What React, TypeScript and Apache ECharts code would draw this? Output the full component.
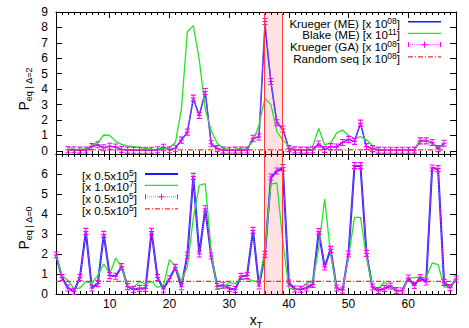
import React, { useEffect, useRef } from 'react';
import * as echarts from 'echarts';

const FONT = '"Liberation Sans", Arial, Helvetica, sans-serif';

// ---------- data ----------
const topX = [3, 4, 5, 6, 7, 8, 9, 10, 11, 12, 13, 14, 15, 16, 17, 18, 19, 20, 21, 22, 23, 24, 25, 26, 27, 28, 29, 30, 31, 32, 33, 34, 35, 36, 37, 38, 39, 40, 41, 42, 43, 44, 45, 46, 47, 48, 49, 50, 51, 52, 53, 54, 55, 56, 57, 58, 59, 60, 61, 62, 63, 64, 65, 66];
const kruegerMETop = [0.08, 0.08, 0.05, 0.06, 0.28, 0.4, 0.2, 0.3, 0.25, 0.1,
  0.05, 0.04, 0.04, 0.04, 0.04, 0.08, 0.24, 0.08, 0.17, 0.7,
  1.22, 3.38, 2.3, 3.8, 0.46, 0.15, 0.05, 0.04, 0.05, 0.06,
  0.06, 0.82, 0.9, 8.15, 4.45, 1.82, 1.42, 0.15, 0.07, 0.05,
  0.05, 0.08, 0.45, 0.1, 0.28, 0.25, 0.55, 0.75, 0.62, 1.78,
  0.28, 0.15, 0.05, 0.04, 0.04, 0.04, 0.04, 0.04, 0.05, 0.65,
  0.65, 0.55, 0.15, 0.5];
const blakeMETop = [0.28, 0.1, 0.1, 0.15, 0.35, 0.55, 1.03, 1.0, 0.62, 0.42,
  0.32, 0.27, 0.22, 0.17, 0.12, 0.1, 0.15, 0.22, 0.55, 2.7,
  7.7, 8.12, 5.9, 2.7, 1.3, 0.5, 0.18, 0.08, 0.08, 0.2,
  0.2, 0.6, 1.7, 3.4, 3.0, 1.25, 0.7, 0.32, 0.1, 0.05,
  0.1, 0.3, 1.45, 0.4, 0.5, 1.15, 1.35, 1.0, 0.82, 0.92,
  0.72, 0.35, 0.06, 0.04, 0.04, 0.04, 0.04, 0.04, 0.1, 0.7,
  0.7, 0.45, 0.28, 0.28];
const kruegerGATop = [0.08, 0.08, 0.05, 0.06, 0.28, 0.4, 0.2, 0.3, 0.25, 0.1,
  0.05, 0.04, 0.04, 0.04, 0.04, 0.08, 0.24, 0.08, 0.17, 0.7,
  1.22, 3.42, 2.3, 3.85, 0.46, 0.15, 0.05, 0.04, 0.05, 0.06,
  0.06, 0.82, 0.9, 8.38, 4.5, 1.82, 1.42, 0.15, 0.07, 0.05,
  0.05, 0.08, 0.45, 0.1, 0.28, 0.25, 0.55, 0.75, 0.62, 1.8,
  0.28, 0.15, 0.05, 0.04, 0.04, 0.04, 0.04, 0.04, 0.05, 0.65,
  0.65, 0.55, 0.15, 0.5];
const randomTopX = [3, 66];
const randomTopY = [0.07, 0.07];

const bottomX = [1, 2, 3, 4, 5, 6, 7, 8, 9, 10, 11, 12, 13, 14, 15, 16, 17, 18, 19, 20, 21, 22, 23, 24, 25, 26, 27, 28, 29, 30, 31, 32, 33, 34, 35, 36, 37, 38, 39, 40, 41, 42, 43, 44, 45, 46, 47, 48, 49, 50, 51, 52, 53, 54, 55, 56, 57, 58, 59, 60, 61, 62, 63, 64, 65, 66, 67, 68];
const kruegerMEBottom = [1.95, 0.82, 0.3, 0.13, 0.82, 3.13, 0.3, 0.52, 2.98, 0.92,
  0.89, 1.37, 0.37, 0.23, 0.28, 0.28, 3.13, 0.82, 0.25, 0.76,
  1.33, 0.36, 1.94, 5.85, 2.0, 4.26, 1.9, 0.39, 0.44, 0.28,
  0.23, 0.88, 0.92, 3.18, 0.4, 1.98, 5.82, 6.15, 6.3, 0.55,
  0.25, 0.23, 0.3, 0.48, 3.12, 1.35, 2.23, 0.3, 0.2, 2.0,
  6.4, 6.4, 2.03, 0.35, 0.17, 0.28, 0.4, 0.17, 0.15, 0.8,
  0.43, 0.82, 0.6, 6.3, 6.25, 0.58, 0.32, 0.75];
const blakeMEBottom = [1.95, 0.93, 0.68, 0.27, 0.3, 0.62, 0.55, 0.93, 1.5, 1.0,
  1.8, 1.35, 0.38, 0.33, 0.62, 0.5, 0.62, 0.33, 0.42, 1.72,
  1.38, 0.65, 1.35, 3.8, 5.43, 5.52, 2.1, 0.25, 0.3, 0.58,
  0.52, 0.75, 0.75, 0.67, 0.6, 2.2, 5.5, 5.55, 2.6, 0.3,
  0.22, 0.3, 0.55, 0.62, 2.3, 4.75, 2.0, 0.3, 0.25, 1.85,
  3.83, 3.83, 1.85, 0.42, 0.25, 0.6, 0.35, 0.17, 0.13, 0.8,
  0.82, 0.85, 0.82, 1.55, 1.47, 0.35, 0.35, 0.75];
const kruegerGABottom = [1.95, 0.82, 0.3, 0.13, 0.82, 3.13, 0.3, 0.52, 2.98, 0.92,
  0.89, 1.37, 0.37, 0.23, 0.28, 0.28, 3.13, 0.82, 0.25, 0.76,
  1.33, 0.36, 1.94, 5.88, 2.0, 4.26, 1.9, 0.39, 0.44, 0.28,
  0.23, 0.88, 0.92, 3.18, 0.4, 1.98, 5.85, 6.15, 6.32, 0.55,
  0.25, 0.23, 0.3, 0.48, 3.12, 1.35, 2.23, 0.3, 0.2, 2.0,
  6.42, 6.42, 2.03, 0.35, 0.17, 0.28, 0.4, 0.17, 0.15, 0.8,
  0.43, 0.82, 0.6, 6.3, 6.27, 0.58, 0.32, 0.75];
const randomBottomX = [1, 68];
const randomBottomY = [0.63, 0.63];

const shadeRange = [35.9, 38.9];

const xTickLabels = [10, 20, 30, 40, 50, 60];
const topYTicks = [0, 1, 2, 3, 4, 5, 6, 7, 8, 9];
const bottomYLabels = [0, 1, 2, 3, 4, 5, 6];

const topLegend = [
  ['Krueger (ME) [x 10', '08'],
  ['Blake (ME) [x 10', '11'],
  ['Krueger (GA) [x 10', '08'],
  ['Random seq [x 10', '08'],
];
const bottomLegend = [
  ['[x 0.5x10', '5'],
  ['[x 1.0x10', '7'],
  ['[x 0.5x10', '5'],
  ['[x 0.5x10', '5'],
];
const topTitle = ['P', 'eq | Δ=2'];
const bottomTitle = ['P', 'eq | Δ=0'];
const xTitle = ['x', 'T'];

// ---------- styles ----------
const BLUE = '#1a1aff';
const GREEN = '#22e622';
const MAGENTA = '#ff00ff';
const MAGENTA_LIGHT = '#ff55ff';
const RED = '#ff2a2a';
const DASHDOT = [5, 2, 1, 2];
const ERR_SYMBOL = 'path://M0 0H6M3 0V8M0 8H6M0 4H6';

const pts = (xs: number[], ys: number[]) => xs.map((x, i) => [x, ys[i]]);
const black = { color: '#000', width: 1 };

const minorX = (gridIndex: number, position: string, labels: boolean) => ({
  type: 'value', gridIndex, position, min: 1, max: 68, interval: 1,
  axisLine: { show: true, onZero: false, lineStyle: black },
  axisTick: { show: true, inside: true, length: 3, lineStyle: black },
  axisLabel: labels
    ? { show: true, customValues: xTickLabels, margin: 4, fontSize: 12, color: '#000', fontFamily: FONT }
    : { show: false },
  splitLine: { show: false },
});
const majorX = (gridIndex: number, position: string) => ({
  type: 'value', gridIndex, position, min: 1, max: 68,
  axisLine: { show: false, onZero: false },
  axisTick: { show: true, inside: true, length: 6, customValues: xTickLabels, lineStyle: black },
  axisLabel: { show: false },
  splitLine: { show: false },
});
const yAx = (gridIndex: number, position: string, min: number, max: number, ticks: number[], labels: number[] | null) => ({
  type: 'value', gridIndex, position, min, max,
  axisLine: { show: true, onZero: false, lineStyle: black },
  axisTick: { show: true, inside: true, length: 6, customValues: ticks, lineStyle: black },
  axisLabel: labels
    ? { show: true, customValues: labels, margin: 8, fontSize: 12, color: '#000', fontFamily: FONT }
    : { show: false },
  splitLine: { show: false },
});

const shadeSeries = (xi: number, yi: number) => ({
  type: 'line', xAxisIndex: xi, yAxisIndex: yi, data: [], z: 1, silent: true,
  markArea: {
    silent: true,
    itemStyle: { color: 'rgba(255,70,70,0.16)' },
    data: [[{ xAxis: shadeRange[0] }, { xAxis: shadeRange[1] }]],
  },
  markLine: {
    silent: true, symbol: 'none', label: { show: false },
    lineStyle: { color: '#ff3b3b', width: 1, type: 'solid' },
    data: [{ xAxis: shadeRange[0] }, { xAxis: shadeRange[1] }],
  },
});

const lineSeries = (xi: number, yi: number, xs: number[], ys: number[], color: string, width: number, z: number) => ({
  type: 'line', xAxisIndex: xi, yAxisIndex: yi, data: pts(xs, ys), symbol: 'none', z,
  lineStyle: { color, width }, itemStyle: { color },
});
const gaSeries = (xi: number, yi: number, xs: number[], ys: number[]) => ({
  type: 'line', xAxisIndex: xi, yAxisIndex: yi, data: pts(xs, ys), z: 4,
  symbol: ERR_SYMBOL, symbolSize: [5, 6], showSymbol: true, showAllSymbol: true,
  lineStyle: { color: MAGENTA_LIGHT, width: 1, type: 'dotted' },
  itemStyle: { color: 'rgba(0,0,0,0)', borderColor: MAGENTA, borderWidth: 1 },
});
const randomSeries = (xi: number, yi: number, xs: number[], ys: number[]) => ({
  type: 'line', xAxisIndex: xi, yAxisIndex: yi, data: pts(xs, ys), symbol: 'none', z: 5,
  lineStyle: { color: RED, width: 1.2, type: DASHDOT },
});

// legend graphic helpers
const legendText = (xRight: number, y: number, main: string, sup: string) => ({
  type: 'text', x: xRight, y: y + 1.5, z: 100,
  style: {
    text: `{a|${main}}{s|${sup}}{a|]}`,
    align: 'right', verticalAlign: 'middle',
    rich: {
      a: { fontSize: 11.6, fontFamily: FONT, lineHeight: 14, fill: '#000' },
      s: { fontSize: 8.5, fontFamily: FONT, lineHeight: 4, verticalAlign: 'top', fill: '#000' },
    },
  },
});
const hline = (x1: number, x2: number, y: number, stroke: string, lineWidth: number, lineDash?: number[]) => ({
  type: 'line', z: 100, shape: { x1, y1: y, x2, y2: y },
  style: { stroke, lineWidth, lineDash },
});
const vline = (x: number, y1: number, y2: number, stroke: string) => ({
  type: 'line', z: 100, shape: { x1: x, y1, x2: x, y2 },
  style: { stroke, lineWidth: 1 },
});
const legendBlock = (texts: string[][], textRight: number, x1: number, x2: number, rows: number[], blueWidth: number) => {
  const els: any[] = [];
  texts.forEach((t, i) => els.push(legendText(textRight, rows[i], t[0], t[1])));
  els.push(hline(x1, x2, rows[0], BLUE, blueWidth));
  els.push(hline(x1, x2, rows[1], GREEN, 1.3));
  els.push(hline(x1, x2, rows[2], MAGENTA_LIGHT, 1, [1, 1]));
  els.push(vline(x1 + 0.5, rows[2] - 2.5, rows[2] + 2.5, MAGENTA));
  els.push(vline(x2 - 0.5, rows[2] - 2.5, rows[2] + 2.5, MAGENTA));
  const xm = (x1 + x2) / 2;
  els.push(vline(xm, rows[2] - 3, rows[2] + 3, MAGENTA));
  els.push(hline(xm - 3, xm + 3, rows[2], MAGENTA, 1));
  els.push(hline(x1, x2, rows[3], RED, 1.2, DASHDOT));
  return els;
};
const axisTitle = (x: number, y: number, t: string[], rotation: number) => ({
  type: 'text', x, y, rotation, z: 100,
  style: {
    text: `{p|${t[0]}}{s|${t[1]}}`,
    align: 'center', verticalAlign: 'middle',
    rich: {
      p: { fontSize: 14, fontFamily: FONT, lineHeight: 18, fill: '#000' },
      s: { fontSize: 9, fontFamily: FONT, lineHeight: 10, verticalAlign: 'bottom', fill: '#000' },
    },
  },
});

const option = {
  animation: false,
  backgroundColor: '#fff',
  grid: [
    { left: 56, right: 13, top: 12, height: 142 },
    { left: 56, right: 13, top: 154, height: 140 },
  ],
  xAxis: [
    minorX(0, 'bottom', false),
    minorX(0, 'top', false),
    majorX(0, 'bottom'),
    majorX(0, 'top'),
    minorX(1, 'bottom', true),
    minorX(1, 'top', false),
    majorX(1, 'bottom'),
    majorX(1, 'top'),
  ],
  yAxis: [
    yAx(0, 'left', -0.2, 9, topYTicks, topYTicks),
    yAx(0, 'right', -0.2, 9, topYTicks, null),
    yAx(1, 'left', 0, 7, bottomYLabels, bottomYLabels),
    yAx(1, 'right', 0, 7, bottomYLabels, null),
  ],
  series: [
    shadeSeries(0, 0),
    lineSeries(0, 0, topX, kruegerMETop, BLUE, 1.5, 2),
    lineSeries(0, 0, topX, blakeMETop, GREEN, 1.3, 3),
    gaSeries(0, 0, topX, kruegerGATop),
    randomSeries(0, 0, randomTopX, randomTopY),
    shadeSeries(4, 2),
    lineSeries(4, 2, bottomX, kruegerMEBottom, BLUE, 2, 2),
    lineSeries(4, 2, bottomX, blakeMEBottom, GREEN, 1.3, 3),
    gaSeries(4, 2, bottomX, kruegerGABottom),
    randomSeries(4, 2, randomBottomX, randomBottomY),
  ],
  graphic: [
    ...legendBlock(topLegend, 400, 408, 441, [21.7, 33.3, 44.7, 56.8], 1.5),
    ...legendBlock(bottomLegend, 137, 145, 178, [174, 185.4, 196.8, 208.8], 2.2),
    axisTitle(24, 89, topTitle, Math.PI / 2),
    axisTitle(24, 228, bottomTitle, Math.PI / 2),
    axisTitle(256, 320, xTitle, 0),
  ],
};

export default function App() {
  const ref = useRef<HTMLDivElement>(null);
  useEffect(() => {
    const chart = echarts.init(ref.current!, null, { renderer: 'svg' });
    chart.setOption(option as any);
    return () => chart.dispose();
  }, []);
  return (
    <div
      ref={ref}
      style={{ position: 'fixed', left: 0, top: 0, width: 469, height: 328, background: '#fff' }}
    />
  );
}
